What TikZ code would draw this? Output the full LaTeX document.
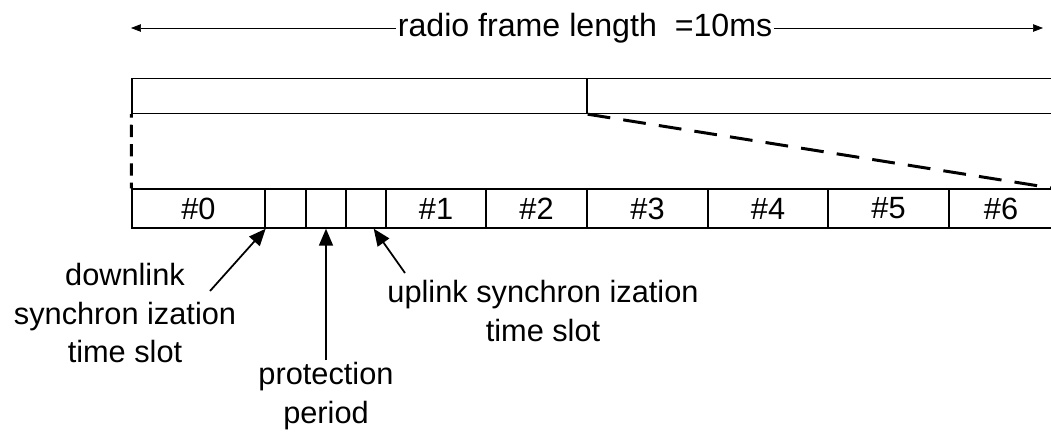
\documentclass[tikz,border=0pt]{standalone}
\usepackage{fontspec}
\setmainfont{Liberation Sans}
\usetikzlibrary{arrows.meta}

\tikzset{
  slot/.style={draw, line width=0.8pt, inner sep=0pt, minimum height=0.78cm},
  cutline/.style={line width=1.7pt, dash pattern=on 13pt off 7.5pt},
  pointer/.style={line width=1pt, -{Triangle[length=0.34cm,width=0.28cm]}},
  txt/.style={font=\fontsize{17.5}{22}\selectfont, align=center, inner sep=1pt}
}

\begin{document}
\begin{tikzpicture}[x=0.02cm,y=-0.02cm]
    \useasboundingbox (0,0) rectangle (1051,434);
    % frame length arrow
    \node[txt, font=\fontsize{18.3}{22}\selectfont] (title) at (585,28) {radio frame length \ =10ms};
    \coordinate (la) at (131,28);
    \coordinate (ra) at (1043,28);
    \draw[-{Triangle[length=0.2cm,width=0.15cm]}] (title.west) -- (la);
    \draw[-{Triangle[length=0.2cm,width=0.15cm]}] (title.east) -- (ra);
    % radio frame
    \node[slot, minimum height=0.7cm, minimum width=9.1cm] (f1) at (359.5,96) {};
    \node[slot, minimum height=0.7cm, minimum width=9.32cm] (f2) at (820,96) {};
    % time slots
    \foreach \a/\b/\t [count=\i from 0] in {132/265/\#0, 265/306/, 306/346/, 346/386/,
        386/486/\#1, 486/587/\#2, 587/708/\#3, 708/828/\#4, 828/949/\#5, 949/1053/\#6}
      \node[slot, txt, inner sep=0pt, minimum width={(\b-\a)*0.02cm}] (s\i) at ({(\a+\b)/2},208.5) {\t};
    % zoom lines
    \draw[cutline, dash pattern=on 7pt off 4pt, dash phase=5pt] (f1.south west) -- (s0.north west);
    \draw[cutline] (f1.south east) -- (s9.north east);
    % labels
    \node[txt] (dl) at (125,313) {downlink\\synchron ization\\time slot};
    \node[txt] (pp) at (326,396) {protection\\period};
    \node[txt] (ul) at (543,311) {uplink synchron ization\\time slot};
    \coordinate (dlt) at (210,291);
    \coordinate (ult) at (405,273);
    \draw[pointer] (dlt) -- (s0.south east);
    \draw[pointer] (pp.north) -- (s2.south);
    \draw[pointer] (ult) -- ([xshift=-0.26cm]s3.south east);
\end{tikzpicture}
\end{document}
